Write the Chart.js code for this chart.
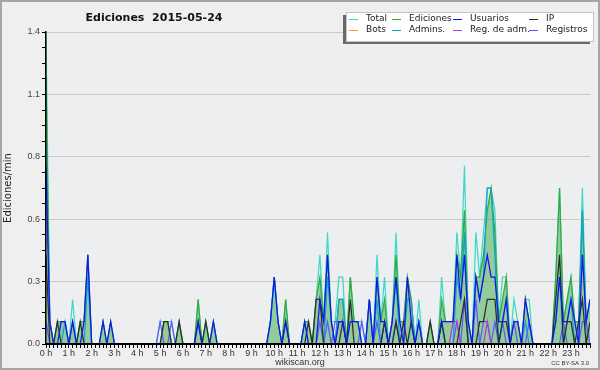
<!DOCTYPE html>
<html>
<head>
<meta charset="utf-8">
<script src="https://cdn.jsdelivr.net/npm/chart.js@4.4.0/dist/chart.umd.min.js"></script>
<style>
  html, body { margin: 0; padding: 0; background: #efefef; }
  canvas { display: block; }
</style>
</head>
<body>
<canvas id="chart" width="600" height="370"></canvas>
<script>
// one value per 10 minutes, edits per minute
const hourLabels = ['0 h','1 h','2 h','3 h','4 h','5 h','6 h','7 h','8 h','9 h','10 h','11 h',
  '12 h','13 h','14 h','15 h','16 h','17 h','18 h','19 h','20 h','21 h','22 h','23 h'];
const yTickLabels = ['0.0', '0.3', '0.6', '0.8', '1.1', '1.4'];

const total = [
  1.4,0.1,0,0.1,0.1,0.1, 0,0.2,0,0.1,0.1,0.4, 0,0,0,0.1,0,0.1, 0,0,0,0,0,0,
  0,0,0,0,0,0, 0.1,0.1,0.1,0.1,0,0.1, 0,0,0,0,0.2,0, 0.1,0,0.1,0,0,0,
  0,0,0,0,0,0, 0,0,0,0,0,0.1, 0.3,0.1,0,0.2,0,0, 0,0,0.1,0.1,0,0.2,
  0.4,0.1,0.5,0.1,0.1,0.3, 0.3,0,0.3,0.1,0.1,0.1, 0,0.2,0,0.4,0.1,0.3, 0,0.1,0.5,0.1,0.1,0.3,
  0.2,0,0.2,0,0,0.1, 0,0,0.3,0.1,0.1,0.1, 0.5,0.3,0.8,0.1,0,0.5, 0.3,0.5,0.7,0.7,0.6,0.1,
  0.3,0.3,0,0.2,0.1,0, 0.2,0.2,0,0,0,0, 0,0,0.3,0.7,0.1,0.2, 0.3,0.1,0.1,0.7,0.1,0.2
];
const ediciones = [
  1.2,0.1,0,0.1,0.1,0.1, 0,0.1,0,0.1,0.1,0.4, 0,0,0,0.1,0,0.1, 0,0,0,0,0,0,
  0,0,0,0,0,0, 0,0.1,0.1,0,0,0.1, 0,0,0,0,0.2,0, 0.1,0,0.1,0,0,0,
  0,0,0,0,0,0, 0,0,0,0,0,0.1, 0.3,0.1,0,0.2,0,0, 0,0,0.1,0.1,0,0.2,
  0.3,0.1,0.4,0.1,0,0.2, 0.2,0,0.3,0.1,0.1,0, 0,0.2,0,0.3,0.1,0.2, 0,0.1,0.4,0.1,0.1,0.3,
  0.2,0,0.1,0,0,0.1, 0,0,0.2,0.1,0.1,0.1, 0.4,0.3,0.6,0.1,0,0.3, 0.3,0.4,0.6,0.7,0.5,0.1,
  0.2,0.3,0,0.1,0.1,0, 0.2,0.1,0,0,0,0, 0,0,0.3,0.7,0.1,0.2, 0.3,0.1,0.1,0.6,0.1,0.2
];
const usuarios = [
  0.8,0.1,0,0,0.1,0.1, 0,0.1,0,0,0.1,0.4, 0,0,0,0.1,0,0.1, 0,0,0,0,0,0,
  0,0,0,0,0,0, 0,0,0,0,0,0, 0,0,0,0,0.1,0, 0,0,0.1,0,0,0,
  0,0,0,0,0,0, 0,0,0,0,0,0.1, 0.3,0.1,0,0.1,0,0, 0,0,0.1,0,0,0,
  0.2,0.1,0.4,0.1,0,0.1, 0.1,0,0.1,0.1,0.1,0, 0,0.2,0,0.3,0.1,0.1, 0,0.1,0.3,0.1,0,0.3,
  0.1,0,0.1,0,0,0, 0,0,0.1,0.1,0.1,0.1, 0.4,0.2,0.4,0.1,0,0.3, 0.2,0.3,0.4,0.3,0.3,0.1,
  0.1,0.2,0,0.1,0.1,0, 0.2,0.1,0,0,0,0, 0,0,0.1,0.3,0.1,0.1, 0.2,0.1,0,0.4,0.1,0.2
];
const ip = [
  0.4,0,0,0.1,0,0, 0,0,0,0.1,0,0, 0,0,0,0,0,0, 0,0,0,0,0,0,
  0,0,0,0,0,0, 0,0.1,0.1,0,0,0.1, 0,0,0,0,0.1,0, 0.1,0,0,0,0,0,
  0,0,0,0,0,0, 0,0,0,0,0,0, 0,0,0,0.1,0,0, 0,0,0,0.1,0,0.2,
  0.2,0,0,0,0,0, 0.1,0,0.2,0,0,0, 0,0,0,0,0,0.1, 0,0,0.1,0,0.1,0,
  0.1,0,0,0,0,0.1, 0,0,0.1,0,0,0, 0,0.1,0.2,0,0,0, 0.1,0.1,0.2,0.2,0.2,0,
  0.1,0.1,0,0,0,0, 0,0,0,0,0,0, 0,0,0.2,0.4,0,0.1, 0.1,0,0.1,0.2,0,0.1
];
const bots = [
  0,0,0,0,0,0, 0,0,0,0,0,0, 0,0,0,0,0,0, 0,0,0,0,0,0,
  0,0,0,0,0,0, 0,0,0,0,0,0, 0,0,0,0,0,0, 0,0,0,0,0,0,
  0,0,0,0,0,0, 0,0,0,0,0,0, 0,0,0,0,0,0, 0,0,0,0,0,0,
  0,0,0,0,0,0, 0,0,0,0,0,0, 0,0,0,0,0,0, 0,0,0,0,0,0,
  0,0,0,0,0,0, 0,0,0,0,0,0, 0,0,0,0,0,0, 0,0,0,0,0,0,
  0,0,0,0,0,0, 0,0,0,0,0,0, 0,0,0,0,0,0, 0,0,0,0,0,0
];
const admins = [
  0.9,0.1,0,0,0,0.1, 0,0,0,0,0,0.3, 0,0,0,0,0,0, 0,0,0,0,0,0,
  0,0,0,0,0,0, 0,0,0,0,0,0, 0,0,0,0,0,0, 0,0,0,0,0,0,
  0,0,0,0,0,0, 0,0,0,0,0,0.1, 0.3,0.1,0,0,0,0, 0,0,0.1,0,0,0,
  0,0,0.3,0.1,0,0.2, 0.2,0,0,0,0,0, 0,0.2,0,0.2,0,0.1, 0,0.1,0.3,0,0,0.2,
  0.2,0,0,0,0,0, 0,0,0.1,0,0,0, 0.3,0.2,0.5,0,0,0.3, 0.2,0.3,0.7,0.7,0.4,0,
  0.1,0.2,0,0,0,0, 0.1,0,0,0,0,0, 0,0,0.1,0.3,0,0.1, 0.2,0,0,0.6,0,0
];
const regAdm = [
  0,0,0,0,0,0, 0,0,0,0,0,0, 0,0,0,0,0,0, 0,0,0,0,0,0,
  0,0,0,0,0,0, 0,0,0,0,0,0, 0,0,0,0,0,0, 0,0,0,0,0,0,
  0,0,0,0,0,0, 0,0,0,0,0,0, 0,0,0,0,0,0, 0,0,0,0,0,0,
  0,0,0,0,0,0.1, 0.1,0,0,0,0,0, 0,0,0,0,0,0, 0,0,0,0,0,0,
  0,0,0,0,0,0, 0,0,0,0,0,0.1, 0.1,0,0,0,0,0, 0,0,0.1,0,0,0,
  0,0,0,0,0,0, 0,0,0,0,0,0, 0,0,0,0,0,0, 0,0,0,0,0,0
];
const registros = [
  0.1,0,0,0,0,0, 0,0.1,0,0,0,0, 0,0,0,0,0,0, 0,0,0,0,0,0,
  0,0,0,0,0,0, 0.1,0,0,0.1,0,0, 0,0,0,0,0,0, 0,0,0,0,0,0,
  0,0,0,0,0,0, 0,0,0,0,0,0, 0,0,0,0,0,0, 0,0,0,0,0,0,
  0.1,0,0.1,0,0.1,0.1, 0.1,0,0,0,0,0.1, 0,0,0,0.1,0,0.1, 0,0,0.1,0,0,0,
  0,0,0.1,0,0,0, 0,0,0.1,0,0,0, 0.1,0,0.2,0,0,0.2, 0,0.1,0.1,0,0.1,0,
  0.1,0,0,0.1,0,0, 0,0.1,0,0,0,0, 0,0,0,0,0.1,0, 0,0,0,0.1,0.1,0
];

const pts = arr => arr.map((v, i) => ({ x: i, y: v }));

const line = (label, arr, color, order, extra) => Object.assign({
  label: label,
  data: pts(arr),
  borderColor: color,
  backgroundColor: color,
  borderWidth: 1.25,
  pointRadius: 0,
  tension: 0,
  fill: false,
  order: order
}, extra || {});

// legend order: row 1 then row 2
const datasets = [
  line('Total', total, '#3fd8c8', 7),
  line('Ediciones', ediciones, '#33aa3a', 6, { fill: 'origin', backgroundColor: 'rgba(40,160,50,0.45)' }),
  line('Usuarios', usuarios, '#1414ee', 1),
  line('IP', ip, '#2c2c2c', 2),
  line('Bots', bots, '#ff9a33', 8),
  line('Admins.', admins, '#12a2d2', 5),
  line('Reg. de adm.', regAdm, '#b23ad8', 3),
  line('Registros', registros, '#5a5aff', 4)
];

const frame = {
  id: 'frame',
  beforeDraw(chart) {
    const c = chart.ctx, a = chart.chartArea;
    c.save();
    c.fillStyle = '#efefef';
    c.fillRect(0, 0, chart.width, chart.height);
    c.fillStyle = '#edeef0';
    c.fillRect(a.left, a.top, a.right - a.left, a.bottom - a.top);
    c.restore();
  },
  afterDraw(chart) {
    const c = chart.ctx;
    c.save();
    c.strokeStyle = '#a6a6a6';
    c.lineWidth = 2;
    c.strokeRect(1, 1, chart.width - 2, chart.height - 2);

    c.fillStyle = '#111';
    c.font = 'bold 11px "DejaVu Sans"';
    c.textAlign = 'center';
    c.textBaseline = 'alphabetic';
    c.fillText('Ediciones  2015-05-24', 154, 21);

    c.fillStyle = '#333';
    c.font = '9px "Liberation Sans"';
    c.fillText('wikiscan.org', 300, 365);
    c.font = '6px "Liberation Sans"';
    c.textAlign = 'right';
    c.fillText('CC BY-SA 3.0', 589, 365);

    // legend box
    const bx = 346, by = 12, bw = 247, bh = 29;
    c.fillStyle = '#6a6a6a';
    c.fillRect(bx - 3, by + 3, bw, bh);
    c.fillStyle = '#ffffff';
    c.fillRect(bx, by, bw, bh);
    c.strokeStyle = '#c4c4c4';
    c.lineWidth = 1;
    c.strokeRect(bx + 0.5, by + 0.5, bw, bh);
    const cols = [349, 392, 453, 529];
    const rows = [19, 30];
    c.font = '9px "DejaVu Sans"';
    c.textAlign = 'left';
    c.textBaseline = 'middle';
    chart.data.datasets.forEach((ds, k) => {
      const x = cols[k % 4], y = rows[Math.floor(k / 4)];
      c.strokeStyle = ds.borderColor;
      c.beginPath();
      c.moveTo(x, y + 0.5);
      c.lineTo(x + 9, y + 0.5);
      c.stroke();
      c.fillStyle = '#222';
      c.fillText(ds.label, x + 17, y);
    });
    c.restore();
  }
};

new Chart(document.getElementById('chart'), {
  type: 'line',
  data: { datasets: datasets },
  options: {
    responsive: false,
    animation: false,
    devicePixelRatio: 1,
    layout: { padding: { top: 32, right: 10, left: 0, bottom: 0 } },
    plugins: {
      legend: { display: false },
      title: { display: false },
      tooltip: { enabled: false },
      filler: { drawTime: 'beforeDatasetsDraw' }
    },
    scales: {
      x: {
        type: 'linear',
        min: 0,
        max: 143,
        afterFit: s => { s.height = 26; },
        border: { color: '#000', width: 2, z: 1 },
        grid: { drawOnChartArea: false, tickLength: 4, tickColor: '#000', tickWidth: 1 },
        ticks: {
          stepSize: 1,
          autoSkip: false,
          maxRotation: 0,
          padding: 0,
          color: '#333',
          font: { family: 'Liberation Sans', size: 9 },
          callback: v => (v % 6 === 0 ? hourLabels[v / 6] : '')
        }
      },
      y: {
        min: 0,
        max: 1.4,
        afterFit: s => { s.width = 46; },
        border: { color: '#000', width: 1.5, z: 1 },
        grid: {
          color: ctx => (ctx.index % 4 === 0 ? '#c9c9c9' : 'rgba(0,0,0,0)'),
          tickColor: '#000',
          tickLength: 4
        },
        ticks: {
          stepSize: 0.07,
          padding: 2,
          color: '#444',
          font: { family: 'Liberation Sans', size: 9 },
          callback: (v, i) => (i % 4 === 0 ? yTickLabels[i / 4] : '')
        },
        title: {
          display: true,
          text: 'Ediciones/min',
          color: '#222',
          font: { family: 'DejaVu Sans', size: 10 },
          padding: { top: 2, bottom: 0 }
        }
      }
    }
  },
  plugins: [frame]
});
</script>
</body>
</html>
